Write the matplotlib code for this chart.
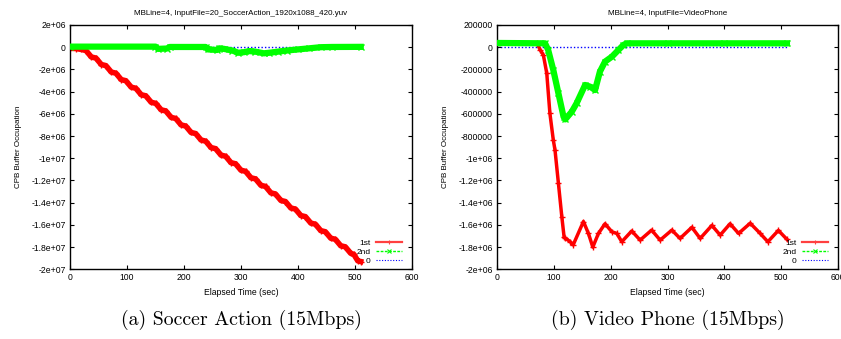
import matplotlib
matplotlib.use('Agg')
import matplotlib.pyplot as plt
from matplotlib.lines import Line2D

plt.rcParams['font.family'] = ['Liberation Sans', 'DejaVu Sans']

# --- (a) Soccer Action: values in units of 1e6 ---
soccer_t_1st = [0, 10, 20, 28, 37.5, 45.5, 55, 63, 72.5, 80.5, 90, 98, 107.5, 115.5,
                125, 133, 142.5, 150.5, 160, 168, 177.5, 185.5, 195, 203, 212.5, 220.5,
                230, 238, 247.5, 255.5, 265, 273, 282.5, 290.5, 300, 308, 317.5, 325.5,
                335, 343, 352.5, 360.5, 370, 378, 387.5, 395.5, 405, 413, 422.5, 430.5,
                440, 448, 457.5, 465.5, 475, 483, 492.5, 498, 505, 510]
soccer_y_1st = [-0.10, -0.12, -0.20, -0.30, -0.88, -0.98, -1.56, -1.66, -2.24, -2.34,
                -2.92, -3.02, -3.60, -3.70, -4.28, -4.38, -4.96, -5.06, -5.64, -5.74,
                -6.32, -6.42, -7.00, -7.10, -7.68, -7.78, -8.36, -8.46, -9.04, -9.14,
                -9.72, -9.82, -10.40, -10.50, -11.08, -11.18, -11.76, -11.86, -12.44, -12.54,
                -13.12, -13.22, -13.80, -13.90, -14.48, -14.58, -15.16, -15.26, -15.84, -15.94,
                -16.52, -16.62, -17.20, -17.30, -17.88, -17.98, -18.56, -18.66, -19.24, -19.30]
soccer_t_2nd = [0, 150, 155, 170, 175, 238, 242, 258, 262, 270, 285, 295, 305, 315,
                325, 340, 350, 365, 380, 400, 420, 440, 460, 510]
soccer_y_2nd = [0.05, 0.05, -0.15, -0.12, 0.02, 0.02, -0.20, -0.25, -0.10, -0.15, -0.30,
                -0.50, -0.45, -0.35, -0.40, -0.55, -0.50, -0.40, -0.30, -0.20, -0.10,
                0.0, 0.02, 0.03]

# --- (b) Video Phone: values in units of 1e6 ---
phone_t_1st = [0, 70, 76, 81.5, 87.5, 93, 99, 102, 108, 114, 118, 120, 128.5, 134, 152,
               160.8, 168.5, 178.4, 190, 202, 210.7, 219.5, 237, 251.8, 272, 287, 307.6,
               322, 342.8, 357.4, 378, 392.6, 410, 425, 445.4, 463, 476.5, 495, 510]
phone_y_1st = [0.04, 0.04, -0.025, -0.07, -0.235, -0.595, -0.836, -0.926, -1.226, -1.527,
               -1.71, -1.72, -1.75, -1.78, -1.57, -1.677, -1.80, -1.677, -1.59, -1.662,
               -1.677, -1.752, -1.655, -1.737, -1.647, -1.737, -1.647, -1.722, -1.622,
               -1.722, -1.605, -1.692, -1.59, -1.677, -1.585, -1.677, -1.752, -1.65, -1.73]
phone_t_2nd = [0, 84.5, 90, 99, 108, 117, 120, 131.5, 140, 155, 164, 172.5, 181, 190,
               202, 213.6, 222.4, 228, 300, 400, 510]
phone_y_2nd = [0.038, 0.035, -0.025, -0.205, -0.415, -0.626, -0.650, -0.581, -0.505,
               -0.340, -0.356, -0.386, -0.220, -0.130, -0.086, -0.025, 0.02, 0.035,
               0.035, 0.035, 0.035]

zero_t = [0, 510]
zero_y = [0, 0]

soccer_yticks = [2, 0, -2, -4, -6, -8, -10, -12, -14, -16, -18, -20]
soccer_ylabels = ['2e+06', '0', '-2e+06', '-4e+06', '-6e+06', '-8e+06', '-1e+07',
                  '-1.2e+07', '-1.4e+07', '-1.6e+07', '-1.8e+07', '-2e+07']
phone_yticks = [0.2, 0, -0.2, -0.4, -0.6, -0.8, -1.0, -1.2, -1.4, -1.6, -1.8, -2.0]
phone_ylabels = ['200000', '0', '-200000', '-400000', '-600000', '-800000', '-1e+06',
                 '-1.2e+06', '-1.4e+06', '-1.6e+06', '-1.8e+06', '-2e+06']
xticks = [0, 100, 200, 300, 400, 500, 600]

fig = plt.figure(figsize=(8.41, 3.39), dpi=100)
ax1 = fig.add_axes([0.0832, 0.2056, 0.4067, 0.7207])
ax2 = fig.add_axes([0.591, 0.2056, 0.4055, 0.7207])

panels = [
    (ax1, soccer_t_1st, soccer_y_1st, soccer_t_2nd, soccer_y_2nd, soccer_yticks, soccer_ylabels,
     'MBLine=4, InputFile=20_SoccerAction_1920x1088_420.yuv', '(a) Soccer Action (15Mbps)', 4.0),
    (ax2, phone_t_1st, phone_y_1st, phone_t_2nd, phone_y_2nd, phone_yticks, phone_ylabels,
     'MBLine=4, InputFile=VideoPhone', '(b) Video Phone (15Mbps)', 2.5),
]

for ax, t1, y1, t2, y2, yt, yl, title, caption, red_lw in panels:
    ax.plot(zero_t, zero_y, color='#0000ff', lw=1.0, ls=(0, (1, 1.5)), zorder=1)
    ax.plot(t1, y1, color='#ff0000', lw=red_lw, marker='+', ms=4, mew=1, zorder=2,
            solid_joinstyle='round')
    ax.plot(t2, y2, color='#00ff00', lw=4.5, marker='x', ms=4, mew=1, zorder=3,
            solid_joinstyle='round')
    ax.set_xlim(0, 600)
    ax.set_ylim(yt[-1], yt[0])
    ax.set_xticks(xticks)
    ax.set_xticklabels([str(v) for v in xticks])
    ax.set_yticks(yt)
    ax.set_yticklabels(yl)
    ax.tick_params(direction='in', length=3, width=0.8, labelsize=6.2, pad=3,
                   top=True, right=True)
    for s in ax.spines.values():
        s.set_linewidth(1.0)
    ax.set_title(title, fontsize=5.8, pad=7)
    ax.set_xlabel('Elapsed Time (sec)', fontsize=6.2, labelpad=4)
    ax.set_ylabel('CPB Buffer Occupation', fontsize=5.8, labelpad=7)

    handles = [
        Line2D([], [], color='#ff4040', lw=1.6, marker='+', ms=3, mew=0.8),
        Line2D([], [], color='#00ff00', lw=1.0, ls=(0, (2, 1)), marker='x', ms=3, mew=0.8),
        Line2D([], [], color='#0000ff', lw=0.8, ls=(0, (1, 1.5))),
    ]
    ax.legend(handles, ['1st', '2nd', '0'], loc='lower right', frameon=False,
              fontsize=6.0, markerfirst=False, handlelength=3.2, handletextpad=0.6,
              labelspacing=0.1, borderaxespad=0.15, bbox_to_anchor=(0.985, 0.0))

    pos = ax.get_position()
    fig.text(pos.x0 + pos.width / 2, 0.055, caption, ha='center', va='center',
             fontsize=14.3, family='cmr10')

fig.savefig('out.png', dpi=100)
